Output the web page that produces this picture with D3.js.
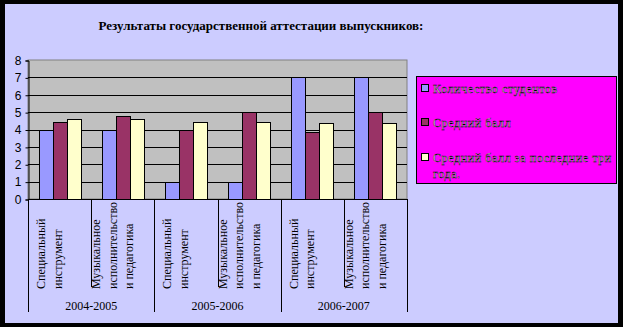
<!DOCTYPE html>
<html>
<head>
<meta charset="utf-8">
<script src="https://cdn.jsdelivr.net/npm/d3@7"></script>
<style>
  body { margin: 0; background: #000; }
  svg { display: block; }
</style>
</head>
<body>
<svg id="chart" width="623" height="327"></svg>
<script>
// chart data
const years = ['2004-2005', '2005-2006', '2006-2007']
const categories = [
  ['Специальный', 'инструмент'],
  ['Музыкальное', 'исполнительство', 'и педагогика'],
  ['Специальный', 'инструмент'],
  ['Музыкальное', 'исполнительство', 'и педагогика'],
  ['Специальный', 'инструмент'],
  ['Музыкальное', 'исполнительство', 'и педагогика']
]
const seriesNames = ['Количество студентов', 'Средний балл', 'Средний балл за последние три года.']
const students = [4, 4, 1, 1, 7, 7]
const avgScore = [4.45, 4.8, 4, 5, 3.85, 5]
const avgScore3 = [4.62, 4.62, 4.45, 4.42, 4.38, 4.38]
const yTicks = [0, 1, 2, 3, 4, 5, 6, 7, 8]
const colors = ['#9999ff', '#993366', '#ffffcc']

const seriesValues = [students, avgScore, avgScore3]

const svg = d3.select('#chart')
const width = 623, height = 327
const plot = { left: 28, right: 407, top: 60, bottom: 199 }

// frame + background
svg.append('rect').attr('width', width).attr('height', height).attr('fill', '#000')
svg.append('rect').attr('x', 5).attr('y', 4).attr('width', 613).attr('height', 319).attr('fill', '#ccccff')

// title
svg.append('text')
  .attr('x', 261).attr('y', 30)
  .attr('text-anchor', 'middle')
  .style('font-family', '"Liberation Serif", "Times New Roman", serif')
  .style('font-size', '13px')
  .style('font-weight', 'bold')
  .text('Результаты государственной аттестации выпускников:')

const xScale = d3.scaleBand()
  .domain(d3.range(categories.length))
  .range([plot.left, plot.right])
  .padding(0)

const groupW = 42
const innerScale = d3.scaleBand()
  .domain(d3.range(seriesValues.length))
  .range([(xScale.bandwidth() - groupW) / 2, (xScale.bandwidth() + groupW) / 2])

const yScale = d3.scaleLinear()
  .domain([0, 8])
  .range([plot.bottom, plot.top])

// plot area
svg.append('rect')
  .attr('x', plot.left).attr('y', plot.top)
  .attr('width', plot.right - plot.left).attr('height', plot.bottom - plot.top)
  .attr('fill', '#c0c0c0')
  .attr('stroke', '#808080')

// gridlines
svg.append('g').selectAll('line')
  .data(yTicks.filter(d => d > 0 && d < 8))
  .join('line')
  .attr('x1', plot.left).attr('x2', plot.right)
  .attr('y1', d => Math.round(yScale(d)) + 0.5)
  .attr('y2', d => Math.round(yScale(d)) + 0.5)
  .attr('stroke', '#000')

// bars
const rows = []
categories.forEach((c, i) => {
  seriesValues.forEach((vals, s) => rows.push({ cat: i, s: s, v: vals[i] }))
})

svg.append('g').selectAll('rect')
  .data(rows)
  .join('rect')
  .attr('x', d => Math.round(xScale(d.cat) + innerScale(d.s)) + 0.5)
  .attr('y', d => Math.round(yScale(d.v)) + 0.5)
  .attr('width', Math.round(innerScale.bandwidth()))
  .attr('height', d => Math.round(yScale(0)) - Math.round(yScale(d.v)))
  .attr('fill', d => colors[d.s])
  .attr('stroke', '#000')
  .attr('stroke-width', 1)

// y axis
const yAxis = d3.axisLeft(yScale).tickValues(yTicks).tickSize(3).tickPadding(4)
const yg = svg.append('g')
  .attr('transform', `translate(${plot.left + 0.5},0.5)`)
  .call(yAxis)
yg.select('.domain').attr('stroke', '#000')
yg.selectAll('line').attr('stroke', '#000')
yg.selectAll('text')
  .style('font-family', '"Liberation Sans", Arial, sans-serif')
  .style('font-size', '12px')
  .attr('fill', '#000')

// x axis line + category separators
svg.append('line')
  .attr('x1', plot.left).attr('x2', plot.right)
  .attr('y1', plot.bottom + 0.5).attr('y2', plot.bottom + 0.5)
  .attr('stroke', '#000')

svg.append('g').selectAll('line')
  .data(d3.range(categories.length + 1))
  .join('line')
  .attr('x1', i => Math.round(plot.left + i * xScale.bandwidth()) + 0.5)
  .attr('x2', i => Math.round(plot.left + i * xScale.bandwidth()) + 0.5)
  .attr('y1', plot.bottom)
  .attr('y2', i => i % 2 === 0 ? 312 : 287)
  .attr('stroke', '#000')

// category labels (rotated)
const catLabels = svg.append('g')
  .style('font-family', '"Liberation Serif", "Times New Roman", serif')
  .style('font-size', '12px')
categories.forEach((lines, i) => {
  const first = lines.length === 2 ? 17 : 9
  lines.forEach((ln, j) => {
    const x = xScale(i) + first + j * 16.5
    catLabels.append('text')
      .attr('transform', `translate(${x},289) rotate(-90)`)
      .attr('text-anchor', 'start')
      .text(ln)
  })
})

// group labels
svg.append('g').selectAll('text')
  .data(years)
  .join('text')
  .attr('x', (d, i) => xScale(i * 2) + xScale.bandwidth())
  .attr('y', 310)
  .attr('text-anchor', 'middle')
  .style('font-family', '"Liberation Serif", "Times New Roman", serif')
  .style('font-size', '12px')
  .text(d => d)

// legend
const legend = svg.append('g')
legend.append('rect')
  .attr('x', 416.5).attr('y', 76.5)
  .attr('width', 200).attr('height', 107)
  .attr('fill', '#ff00ff')
  .attr('stroke', '#000')

const legendY = [93, 127, 162]
seriesNames.forEach((name, i) => {
  legend.append('rect')
    .attr('x', 421.5).attr('y', legendY[i] - 8.5)
    .attr('width', 7).attr('height', 7)
    .attr('fill', colors[i])
    .attr('stroke', '#000')
  const words = i === 2 ? ['Средний балл за последние три', 'года.'] : [name]
  words.forEach((w, k) => {
    legend.append('text')
      .attr('x', 433).attr('y', legendY[i] + k * 16)
      .style('font-family', '"Liberation Serif", "Times New Roman", serif')
      .style('font-size', '12px')
      .style('letter-spacing', '0.6px')
      .attr('fill', '#eeeeee')
      .attr('stroke', '#000')
      .attr('stroke-width', 0.4)
      .text(w)
  })
})
</script>
</body>
</html>
